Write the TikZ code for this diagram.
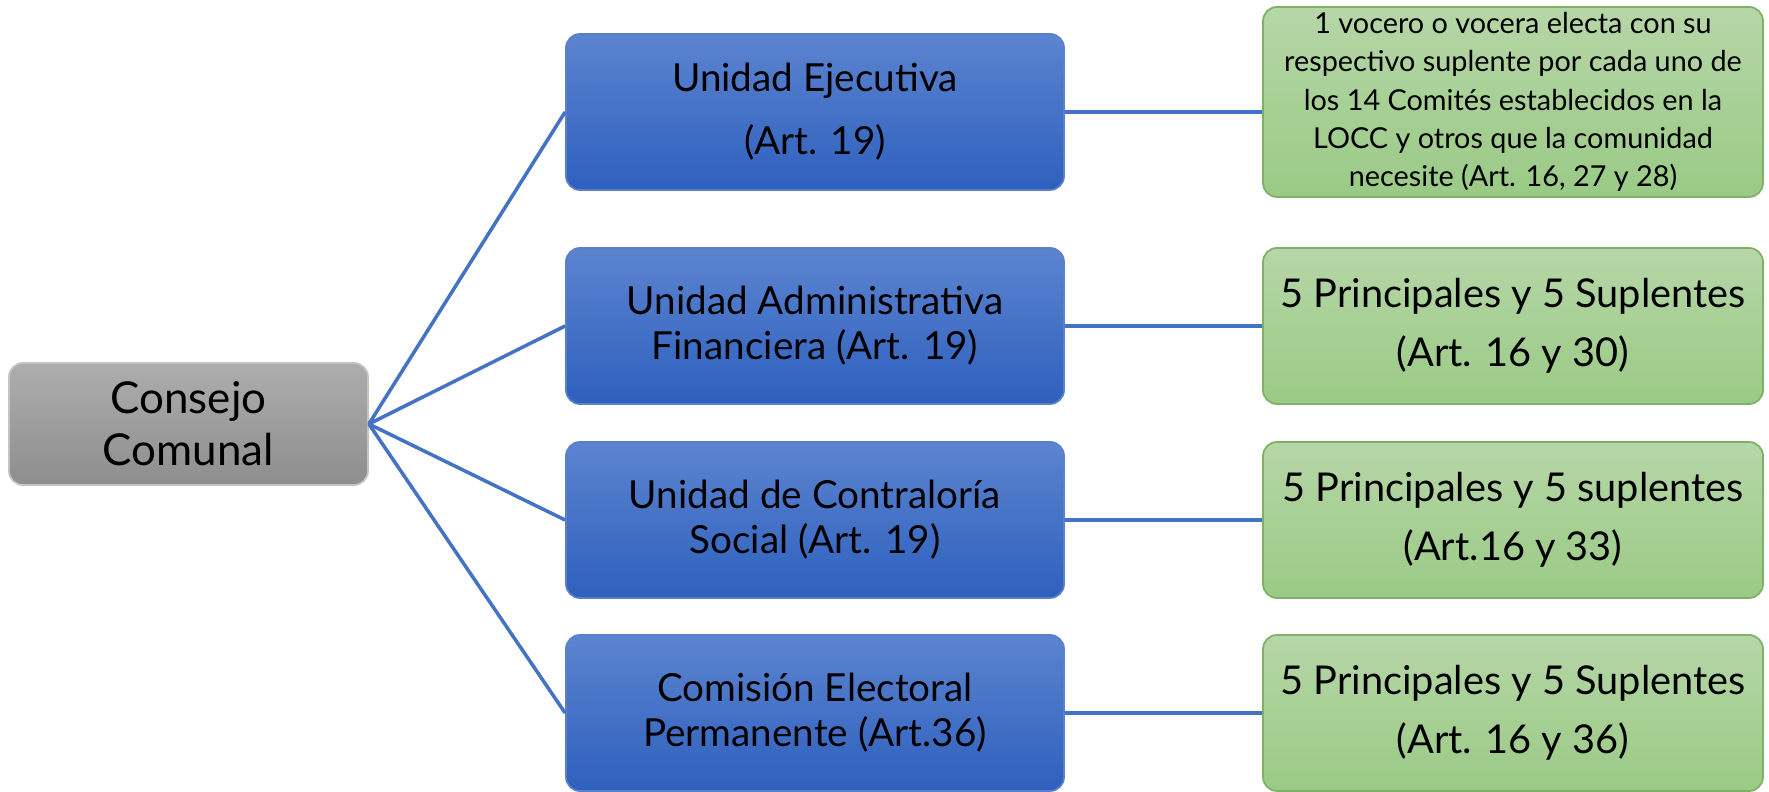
\documentclass[tikz,border=0pt]{standalone}
\usepackage{fontspec}
\setmainfont{Lato}
\begin{document}
\begin{tikzpicture}[
  x=1cm,y=1cm,
  box/.style={rectangle, rounded corners=0.14cm, align=center, inner sep=0pt, line width=0.5pt, text=black},
  greybox/.style={box, draw=greyedge, top color=greytop, bottom color=greybot, minimum width=3.59cm, minimum height=1.22cm},
  bluebox/.style={box, draw=blueedge, top color=bluetop, bottom color=bluebot, minimum width=4.98cm, minimum height=1.56cm},
  greenbox/.style={box, draw=greenedge, top color=greentop, bottom color=greenbot, minimum width=5.0cm, minimum height=1.56cm},
  link/.style={draw=linkblue, line width=1pt},
  bigfont/.style={font=\fontsize{12.5}{14.8}\selectfont},
  bluefont/.style={font=\fontsize{11}{12.8}\selectfont},
  bluefontwide/.style={font=\fontsize{11}{17.9}\selectfont},
  smallfont/.style={font=\fontsize{8.2}{10.9}\selectfont},
  greenfont/.style={font=\fontsize{11.3}{16.8}\selectfont},
]
\definecolor{greytop}{HTML}{ADADAD}
\definecolor{greybot}{HTML}{8E8E8E}
\definecolor{greyedge}{HTML}{C4C4C4}
\definecolor{bluetop}{HTML}{5C84D0}
\definecolor{bluebot}{HTML}{2E60BD}
\definecolor{blueedge}{HTML}{5A80CC}
\definecolor{greentop}{HTML}{B6D6A7}
\definecolor{greenbot}{HTML}{9ACA85}
\definecolor{greenedge}{HTML}{7DB164}
\definecolor{linkblue}{HTML}{4472C4}

\useasboundingbox (0,0) rectangle (17.69,-7.92);

\node[greybox, bigfont] (cc) at (1.885,-4.24) {Consejo\\Comunal};

\node[bluebox, bluefontwide] (b1) at (8.15,-1.12) {Unidad Ejecutiva\\(Art. 19)};
\node[bluebox, bluefont] (b2) at (8.15,-3.26) {Unidad Administrativa\\Financiera (Art. 19)};
\node[bluebox, bluefont] (b3) at (8.15,-5.20) {Unidad de Contraloría\\Social (Art. 19)};
\node[bluebox, bluefont] (b4) at (8.15,-7.13) {Comisión Electoral\\Permanente (Art.36)};

\node[greenbox, smallfont, minimum height=1.90cm] (g1) at (15.13,-1.02) {1 vocero o vocera electa con su\\respectivo suplente por cada uno de\\los 14 Comités establecidos en la\\LOCC y otros que la comunidad\\necesite (Art. 16, 27 y 28)};
\node[greenbox, greenfont] (g2) at (15.13,-3.26) {5 Principales y 5 Suplentes\\(Art. 16 y 30)};
\node[greenbox, greenfont] (g3) at (15.13,-5.20) {5 Principales y 5 suplentes\\(Art.16 y 33)};
\node[greenbox, greenfont] (g4) at (15.13,-7.13) {5 Principales y 5 Suplentes\\(Art. 16 y 36)};

\foreach \b in {b1,b2,b3,b4}{
  \draw[link] (cc.east) -- (\b.west);
}
\draw[link] (b1.east) -- (b1.east -| g1.west);
\draw[link] (b2.east) -- (g2.west);
\draw[link] (b3.east) -- (g3.west);
\draw[link] (b4.east) -- (g4.west);
\end{tikzpicture}
\end{document}
